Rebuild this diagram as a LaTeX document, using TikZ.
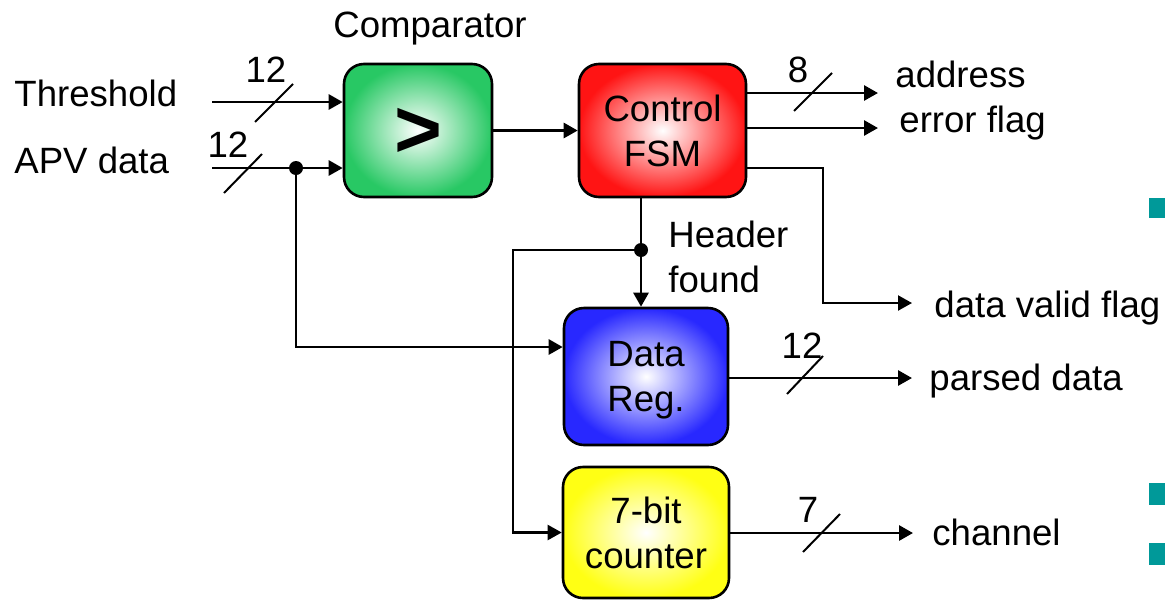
\documentclass[tikz,border=0pt]{standalone}
\usepackage{fontspec}
\setmainfont{Liberation Sans}
\usetikzlibrary{arrows.meta}
\definecolor{cmpgreen}{RGB}{40,200,100}
\definecolor{fsmred}{RGB}{255,20,20}
\definecolor{regblue}{RGB}{40,40,255}
\definecolor{cntyellow}{RGB}{255,255,20}
\definecolor{bullet}{RGB}{0,153,153}
\tikzstyle{blk}=[draw=black,line width=1.3pt,rounded corners=10pt,align=center,shading=radial,inner color=white,text depth=0pt,font=\fontsize{18.3}{22.5}\selectfont]
\tikzstyle{sig}=[-{Triangle[length=7pt,width=7.5pt]},line width=1.4pt]
\tikzstyle{txt}=[inner sep=0pt,anchor=base west,font=\fontsize{18.3}{22.5}\selectfont]
\tikzstyle{num}=[inner sep=0pt,anchor=base,font=\fontsize{18.3}{22.5}\selectfont]
\tikzstyle{slash}=[line width=1pt]

\begin{document}
\begin{tikzpicture}[x=0.5pt,y=-0.5pt]
\useasboundingbox (0,0) rectangle (1165,600);
\node[blk,outer color=cmpgreen,minimum width=74pt,minimum height=66.5pt] (cmp) at (418,130.5) {\fontsize{41}{41}\selectfont\bfseries\raisebox{-2.5pt}{>}};
\node[blk,outer color=fsmred,minimum width=83.5pt,minimum height=66.5pt] (fsm) at (662.5,130.5) {Control\\FSM};
\node[blk,outer color=regblue,minimum width=82pt,minimum height=68.5pt] (dreg) at (646,376.5) {Data\\Reg.};
\node[blk,outer color=cntyellow,minimum width=83pt,minimum height=65.5pt] (cnt) at (646,532.5) {7-bit\\counter};
\node[num] (lcmp) at (430,37) {Comparator};
\node[txt] (lthr) at (14,106) {Threshold};
\node[txt] (lapv) at (14,173) {APV data};
\node[txt] (ladr) at (895,87) {address};
\node[txt] (lerr) at (899,132) {error flag};
\node[txt] (ldv) at (934,317) {data valid flag};
\node[txt] (lpd) at (929,390) {parsed data};
\node[txt] (lch) at (932,545) {channel};
\node[txt,align=left] (lhf) at (668,292) {Header\\found};
\coordinate (thr) at (212,102);
\coordinate (apv) at (212,168);
\coordinate (tap) at (296,168);
\coordinate (tapb) at (296,347);
\coordinate (adr) at (878,93);
\coordinate (err) at (878,128);
\coordinate (dvb) at (823,168);
\coordinate (dv) at (912,303);
\coordinate (hf) at (641,250);
\coordinate (hfl) at (513,250);
\coordinate (pd) at (912,378);
\coordinate (ch) at (913,533);
\draw[sig] (thr) -- (cmp.west |- thr);
\draw[sig] (apv) -- (cmp.west |- apv);
\draw[sig] (tap) -- (tapb) -- (dreg.west |- tapb);
\fill (tap) circle (3.5pt);
\draw[sig] (cmp) -- (fsm);
\draw[sig] (fsm.east |- adr) -- (adr);
\draw[sig] (fsm.east |- err) -- (err);
\draw[sig,line width=1.1pt] (fsm.east |- dvb) -- (dvb) |- (dv);
\draw[sig] (fsm.south -| hf) -- (dreg.north -| hf);
\draw[sig,line width=1.1pt] (hf) -- (hfl) |- (cnt.west);
\fill (hf) circle (3.5pt);
\draw[sig] (dreg.east |- pd) -- (pd);
\draw[sig] (cnt.east |- ch) -- (ch);
\draw[slash] (255,122) -- (293,84);
\draw[slash] (224,193) -- (262,154);
\draw[slash] (794,111) -- (832,73);
\draw[slash] (787,394) -- (823,356);
\draw[slash] (803,552) -- (840,514);
\node[num] (nthr) at (266,82) {12};
\node[num] (napv) at (228,157) {12};
\node[num] (nadr) at (798,82) {8};
\node[num] (npd) at (802,358) {12};
\node[num] (nch) at (808,522) {7};
\fill[bullet] (1149,198) rectangle (1165,218);
\fill[bullet] (1149,483) rectangle (1165,505);
\fill[bullet] (1149,543) rectangle (1165,565);
\end{tikzpicture}
\end{document}
